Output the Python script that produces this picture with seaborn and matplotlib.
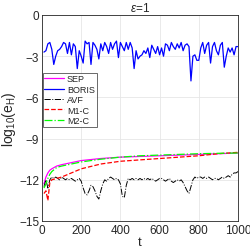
import numpy as np
import pandas as pd
import matplotlib
matplotlib.use("Agg")
import matplotlib.pyplot as plt
import seaborn as sns

t_fine = list(range(10, 1001, 10))
boris = [-2.7, -2.6, -2.1, -2.0, -2.5, -3.6, -3.0, -2.6, -2.5, -2.3,
         -2.0, -2.1, -2.8, -2.0, -2.9, -2.1, -2.3, -3.9, -2.6, -3.0,
         -3.5, -1.9, -2.1, -2.0, -3.6, -2.0, -2.2, -2.5, -3.2, -2.1,
         -2.6, -2.0, -2.3, -2.8, -2.0, -2.5, -2.1, -1.9, -3.1, -2.0,
         -2.3, -2.6, -2.0, -2.5, -2.0, -2.4, -3.9, -2.6, -3.2, -3.0,
         -2.9, -2.6, -2.8, -2.4, -3.1, -2.2, -2.5, -2.8, -2.3, -2.9,
         -2.4, -3.0, -2.1, -2.2, -2.6, -2.0, -2.3, -2.5, -2.1, -2.4,
         -2.0, -2.6, -2.2, -2.1, -2.3, -4.8, -3.0, -2.9, -3.3, -3.3,
         -2.4, -2.0, -2.8, -2.2, -2.0, -3.5, -2.3, -2.0, -2.6, -2.9,
         -2.2, -2.0, -3.8, -3.0, -2.4, -2.7, -2.4, -2.9, -2.3, -2.3]
avf = [-12.5, -12.0, -12.6, -12.0, -11.8, -11.9, -11.8, -11.9, -12.0, -11.8,
       -11.9, -12.0, -11.9, -12.0, -11.9, -12.0, -12.1, -12.0, -11.9, -12.1,
       -12.6, -13.0, -13.1, -12.8, -12.4, -12.5, -12.8, -13.2, -13.4, -12.8,
       -12.3, -12.0, -12.1, -11.9, -11.8, -11.9, -12.0, -11.9, -12.0, -12.3,
       -13.2, -13.3, -12.4, -11.9, -12.0, -11.9, -12.0, -11.9, -12.0, -11.9,
       -12.0, -11.9, -12.0, -11.9, -12.0, -11.9, -12.0, -12.1, -12.0, -11.9,
       -11.9, -12.0, -12.1, -12.0, -11.9, -12.1, -12.2, -12.1, -12.0, -12.1,
       -12.0, -12.2, -12.5, -12.8, -13.0, -12.5, -12.0, -11.8, -11.9, -11.8,
       -11.8, -11.9, -11.8, -11.9, -11.8, -11.9, -12.0, -11.9, -11.9, -12.0,
       -11.9, -11.8, -11.9, -11.8, -11.7, -11.8, -11.6, -11.5, -11.5, -11.4]

t_coarse = [10, 20, 30, 40, 50, 75, 100, 150, 200, 300, 400, 500, 600, 700, 800, 900, 1000]
sep = [-12.3, -11.8, -11.5, -11.3, -11.2, -11.0, -10.9, -10.75, -10.6, -10.45, -10.35, -10.3, -10.25, -10.2, -10.15, -10.1, -10.05]
m2c = [-12.6, -12.3, -11.9, -11.6, -11.4, -11.1, -11.0, -10.85, -10.7, -10.5, -10.35, -10.25, -10.2, -10.15, -10.1, -10.07, -10.05]
m1c = [-13.0, -12.8, -13.5, -12.2, -12.0, -11.9, -11.8, -11.5, -11.2, -10.85, -10.65, -10.55, -10.45, -10.35, -10.25, -10.1, -10.0]

sns.set_style("white")
plt.rcParams['font.family'] = ['Liberation Sans', 'DejaVu Sans']
plt.rcParams['mathtext.fontset'] = 'custom'
plt.rcParams['mathtext.rm'] = 'Liberation Sans'
plt.rcParams['mathtext.it'] = 'Liberation Sans:italic'
fig = plt.figure(figsize=(2.51, 2.51), dpi=100)
ax = fig.add_axes([42/251, 1-222/251, 196/251, 206/251])

sns.lineplot(x=t_coarse, y=sep, ax=ax, color='#ff00ff', lw=0.9, label='SEP', estimator=None, sort=False)
sns.lineplot(x=t_fine, y=boris, ax=ax, color='#0000ff', lw=0.9, label='BORIS', estimator=None, sort=False)
sns.lineplot(x=t_fine, y=avf, ax=ax, color='black', lw=0.7, label='AVF', estimator=None, sort=False, linestyle='-.')
sns.lineplot(x=t_coarse, y=m1c, ax=ax, color='#ff0000', lw=0.9, label='M1-C', estimator=None, sort=False, linestyle='--')
sns.lineplot(x=t_coarse, y=m2c, ax=ax, color='#00ff00', lw=0.9, label='M2-C', estimator=None, sort=False, linestyle='-.')

ax.set_xlim(0, 1000)
ax.set_ylim(-15, 0)
ax.set_xticks([0, 200, 400, 600, 800, 1000])
ax.set_yticks([-15, -12, -9, -6, -3, 0])
ax.grid(True, color='#e6e6e6', lw=0.6)
for s in ax.spines.values():
    s.set_color('#262626')
    s.set_linewidth(0.6)
ax.tick_params(axis='both', labelsize=8.5, length=2, direction='in', pad=2, colors='#262626')
ax.set_xlabel('t', fontsize=9.5, labelpad=0)
ax.set_ylabel(r'log$_{10}$(e$_\mathrm{H}$)', fontsize=10, labelpad=1)
ax.set_title(r'$\epsilon$=1', fontsize=8.5, pad=3)
leg = ax.legend(loc='upper left', bbox_to_anchor=(0.003, 0.72), fontsize=6.5, frameon=True, fancybox=False,
                edgecolor='#262626', borderpad=0.2, labelspacing=0.15, handlelength=2.2, handletextpad=0.3,
                borderaxespad=0.0)
leg.get_frame().set_linewidth(0.6)
fig.savefig('out.png', dpi=100)
